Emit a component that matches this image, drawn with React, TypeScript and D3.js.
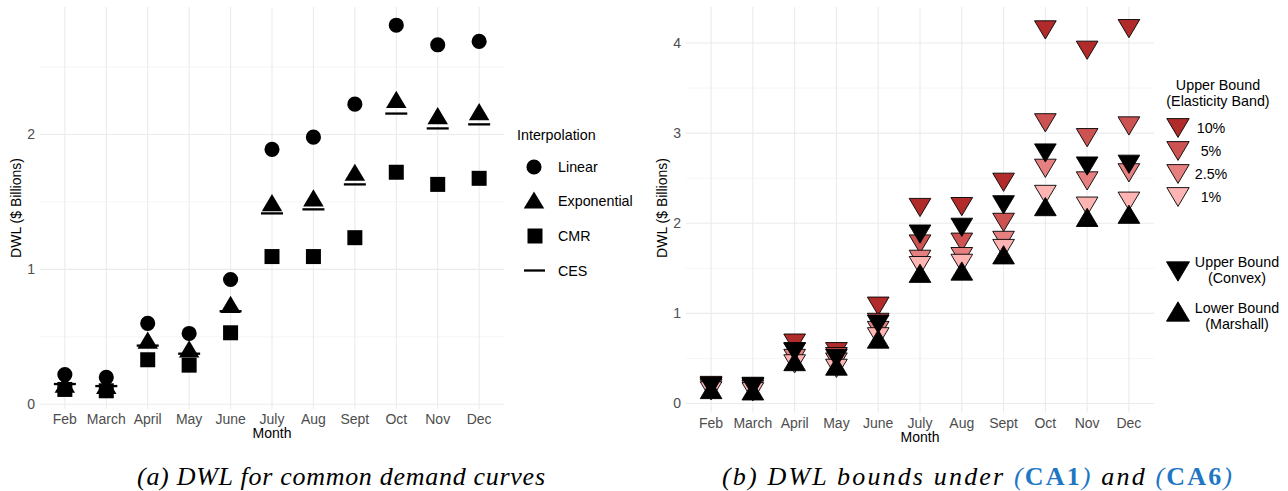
import * as d3 from "d3";

// ---- data ----
const months = ["Feb", "March", "April", "May", "June", "July", "Aug", "Sept", "Oct", "Nov", "Dec"];

// panel (a): DWL by interpolation method
const linear = [0.22, 0.2, 0.6, 0.525, 0.925, 1.89, 1.98, 2.225, 2.81, 2.665, 2.69];
const exponential = [0.15, 0.14, 0.475, 0.41, 0.74, 1.495, 1.53, 1.72, 2.26, 2.14, 2.17];
const cmr = [0.11, 0.1, 0.33, 0.29, 0.53, 1.095, 1.095, 1.235, 1.72, 1.63, 1.675];
const ces = [0.15, 0.135, 0.435, 0.375, 0.69, 1.415, 1.445, 1.63, 2.155, 2.045, 2.075];

// panel (b): bounds
const band10 = [0.2, 0.19, 0.67, 0.575, 1.08, 2.175, 2.185, 2.455, 4.146, 3.92, 4.16];
const band5 = [0.185, 0.175, 0.57, 0.52, 0.9, 1.77, 1.79, 2.01, 3.115, 2.95, 3.08];
const band25 = [0.165, 0.155, 0.5, 0.46, 0.81, 1.6, 1.63, 1.81, 2.61, 2.47, 2.56];
const band1 = [0.14, 0.13, 0.44, 0.39, 0.74, 1.53, 1.555, 1.72, 2.32, 2.19, 2.245];
const convex = [0.19, 0.185, 0.575, 0.5, 0.88, 1.88, 1.955, 2.205, 2.78, 2.635, 2.655];
const marshall = [0.155, 0.14, 0.465, 0.415, 0.715, 1.445, 1.47, 1.65, 2.185, 2.065, 2.1];

const leftTicks = [0, 1, 2];
const leftMinor = [0.5, 1.5, 2.5];
const rightTicks = [0, 1, 2, 3, 4];
const rightMinor = [0.5, 1.5, 2.5, 3.5];

const bands = [
  { label: "10%", values: band10, color: "#B22B2B" },
  { label: "5%", values: band5, color: "#CD5353" },
  { label: "2.5%", values: band25, color: "#E68080" },
  { label: "1%", values: band1, color: "#FFB4B4" },
];

const FONT = "'Liberation Sans', Arial, sans-serif";
const CITE = "#1F77C4";

// triangle centred on its bounding box (like ggplot's glyphs)
const triUp: d3.SymbolType = {
  draw(ctx, size) {
    const w = Math.sqrt(size);
    const h = w * 0.84;
    ctx.moveTo(0, -h / 2);
    ctx.lineTo(w / 2, h / 2);
    ctx.lineTo(-w / 2, h / 2);
    ctx.closePath();
  },
};
const triDown: d3.SymbolType = {
  draw(ctx, size) {
    const w = Math.sqrt(size);
    const h = w * 0.84;
    ctx.moveTo(0, h / 2);
    ctx.lineTo(w / 2, -h / 2);
    ctx.lineTo(-w / 2, -h / 2);
    ctx.closePath();
  },
};

const circlePath = d3.symbol(d3.symbolCircle, 180)()!;
const squarePath = d3.symbol(d3.symbolSquare, 225)()!;
const triPath = d3.symbol(triUp, 420)()!;
const downPath = d3.symbol(triDown, 470)()!;
const upPath = d3.symbol(triUp, 470)()!;
const legDown = d3.symbol(triDown, 530)()!;
const legUp = d3.symbol(triUp, 530)()!;
const legBand = d3.symbol(triDown, 500)()!;

function Grid({ x, y, ticks, minor }: any) {
  const [x0, x1] = x.range();
  const [y0, y1] = y.range();
  return (
    <g>
      {minor.map((t: number) => (
        <line key={"m" + t} x1={x0} x2={x1} y1={y(t)} y2={y(t)} stroke="#F3F3F3" strokeWidth={0.8} />
      ))}
      {ticks.map((t: number) => (
        <line key={"t" + t} x1={x0} x2={x1} y1={y(t)} y2={y(t)} stroke="#EBEBEB" strokeWidth={1.1} />
      ))}
      {months.map((m) => (
        <line key={m} x1={x(m)} x2={x(m)} y1={y0} y2={y1} stroke="#EBEBEB" strokeWidth={1.1} />
      ))}
      {ticks.map((t: number) => (
        <text key={"l" + t} x={x0 - 5} y={y(t)} dy="0.35em" textAnchor="end" fontSize={14} fill="#4D4D4D">
          {t}
        </text>
      ))}
      {months.map((m) => (
        <text key={"x" + m} x={x(m)} y={y0 + 15} textAnchor="middle" fontSize={14} fill="#4D4D4D">
          {m}
        </text>
      ))}
      <text x={(x0 + x1) / 2} y={y0 + 29} textAnchor="middle" fontSize={14} fill="#000">
        Month
      </text>
    </g>
  );
}

export default function App() {
  const xa = d3.scalePoint<string>().domain(months).range([40, 504]).padding(0.6);
  const ya = d3.scaleLinear().domain([-0.035, 2.945]).range([409, 7]);
  const xb = d3.scalePoint<string>().domain(months).range([686, 1154]).padding(0.6);
  const yb = d3.scaleLinear().domain([-0.1, 4.4]).range([412.5, 7]);

  const tr = (x: number, y: number) => `translate(${x},${y})`;

  return (
    <svg
      width={1288}
      height={491}
      style={{ position: "absolute", left: 0, top: 0, background: "#fff" }}
      fontFamily={FONT}
    >
      <rect width={1288} height={491} fill="#fff" />

      {/* ---------- panel (a) ---------- */}
      <Grid x={xa} y={ya} ticks={leftTicks} minor={leftMinor} />
      <text transform={`translate(21,208) rotate(-90)`} textAnchor="middle" fontSize={14}>
        DWL ($ Billions)
      </text>
      <g>
        {months.map((m, i) => (
          <g key={m}>
            <path d={circlePath} transform={tr(xa(m)!, ya(linear[i]))} fill="#000" />
            <path d={triPath} transform={tr(xa(m)!, ya(exponential[i]))} fill="#000" />
            <path d={squarePath} transform={tr(xa(m)!, ya(cmr[i]))} fill="#000" />
            <line
              x1={xa(m)! - 11}
              x2={xa(m)! + 11}
              y1={ya(ces[i])}
              y2={ya(ces[i])}
              stroke="#000"
              strokeWidth={2.3}
            />
          </g>
        ))}
      </g>
      {/* legend (a) */}
      <g fontSize={14.3}>
        <text x={517} y={135} dy="0.35em">Interpolation</text>
        <path d={circlePath} transform={tr(534, 167)} />
        <text x={558} y={167} dy="0.35em">Linear</text>
        <path d={triPath} transform={tr(534, 200)} />
        <text x={558} y={201} dy="0.35em">Exponential</text>
        <path d={squarePath} transform={tr(535, 236)} />
        <text x={558} y={236} dy="0.35em">CMR</text>
        <line x1={524} x2={545} y1={270.5} y2={270.5} stroke="#000" strokeWidth={2.3} />
        <text x={558} y={271} dy="0.35em">CES</text>
      </g>

      {/* ---------- panel (b) ---------- */}
      <Grid x={xb} y={yb} ticks={rightTicks} minor={rightMinor} />
      <text transform={`translate(667,208) rotate(-90)`} textAnchor="middle" fontSize={14}>
        DWL ($ Billions)
      </text>
      <g stroke="#000" strokeWidth={0.9} strokeLinejoin="round">
        {bands.map((b) => (
          <g key={b.label}>
            {months.map((m, i) => (
              <path key={m} d={downPath} transform={tr(xb(m)!, yb(b.values[i]))} fill={b.color} />
            ))}
          </g>
        ))}
        {months.map((m, i) => (
          <path key={"c" + m} d={downPath} transform={tr(xb(m)!, yb(convex[i]))} fill="#000" />
        ))}
        {months.map((m, i) => (
          <path key={"u" + m} d={upPath} transform={tr(xb(m)!, yb(marshall[i]))} fill="#000" />
        ))}
      </g>
      {/* legend (b) */}
      <g fontSize={14.3}>
        <text x={1218} y={85} dy="0.35em" textAnchor="middle">Upper Bound</text>
        <text x={1218} y={101} dy="0.35em" textAnchor="middle">(Elasticity Band)</text>
        {bands.map((b, i) => (
          <g key={b.label}>
            <path
              d={legBand}
              transform={tr(1178, 128 + i * 23)}
              fill={b.color}
              stroke="#000"
              strokeWidth={0.9}
            />
            <text x={1211} y={128 + i * 23} dy="0.35em" textAnchor="middle">
              {b.label}
            </text>
          </g>
        ))}
        <path d={legDown} transform={tr(1178, 271.5)} fill="#000" stroke="#000" strokeWidth={0.9} />
        <text x={1237} y={262} dy="0.35em" textAnchor="middle">Upper Bound</text>
        <text x={1237} y={277.5} dy="0.35em" textAnchor="middle">(Convex)</text>
        <path d={legUp} transform={tr(1178, 311.5)} fill="#000" stroke="#000" strokeWidth={0.9} />
        <text x={1237} y={307.5} dy="0.35em" textAnchor="middle">Lower Bound</text>
        <text x={1237} y={323.5} dy="0.35em" textAnchor="middle">(Marshall)</text>
      </g>

      {/* ---------- captions ---------- */}
      <g fontFamily="'Liberation Serif', 'DejaVu Serif', serif" fontSize={26} fontStyle="italic">
        <text x={137} y={485} textLength={408} lengthAdjust="spacing">
          (a) DWL for common demand curves
        </text>
        <text x={722} y={485} textLength={510} lengthAdjust="spacing">
          (b) DWL bounds under <tspan fill={CITE}>(</tspan>
          <tspan fill={CITE} fontWeight="bold" fontStyle="normal">CA1</tspan>
          <tspan fill={CITE}>)</tspan> and <tspan fill={CITE}>(</tspan>
          <tspan fill={CITE} fontWeight="bold" fontStyle="normal">CA6</tspan>
          <tspan fill={CITE}>)</tspan>
        </text>
      </g>
    </svg>
  );
}
